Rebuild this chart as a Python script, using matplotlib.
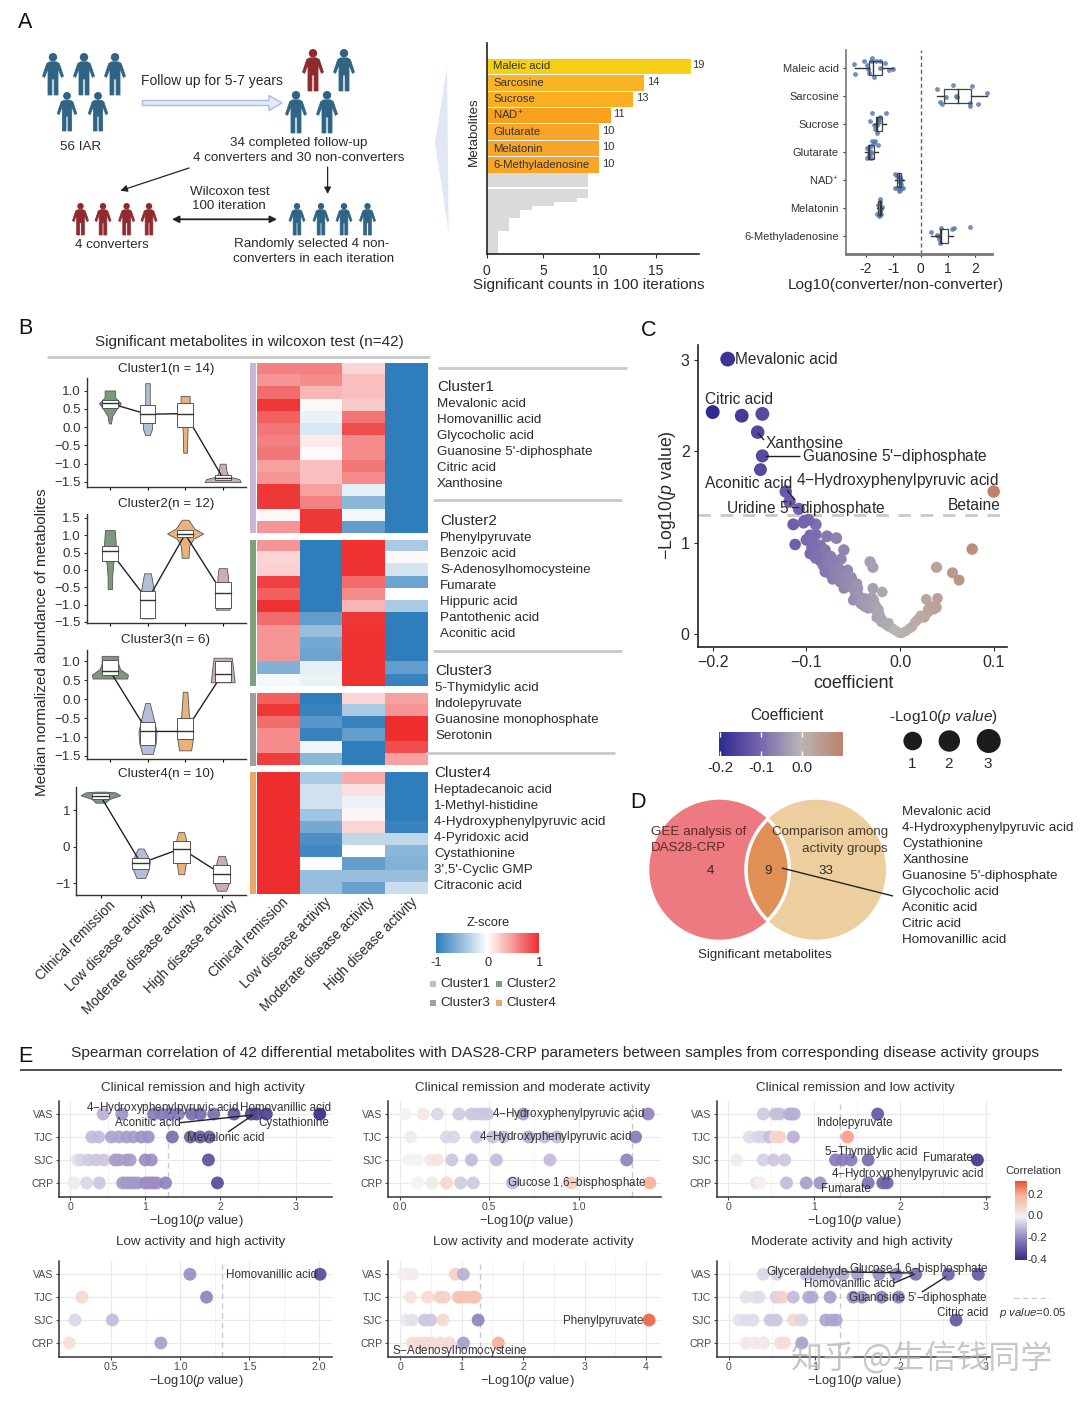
import numpy as np
import matplotlib
matplotlib.use('Agg')
import matplotlib.pyplot as plt
from matplotlib.colors import LinearSegmentedColormap, Normalize
from matplotlib.patches import Circle, Polygon, FancyArrow, Rectangle

plt.rcParams['font.family'] = ['Liberation Sans', 'DejaVu Sans']
plt.rcParams['mathtext.fontset'] = 'custom'
plt.rcParams['mathtext.rm'] = 'Liberation Sans'
plt.rcParams['mathtext.it'] = 'Liberation Sans:italic'
plt.rcParams['mathtext.bf'] = 'Liberation Sans:bold'

# panel A bars
bar_names = ['Maleic acid', 'Sarcosine', 'Sucrose', 'NAD$^{+}$', 'Glutarate', 'Melatonin', '6-Methyladenosine']
bar_values = [18.1, 14, 13, 11, 10, 10, 10]
bar_labels = ['19', '14', '13', '11', '10', '10', '10']
bar_colors = ['#F6D015', '#FBB426', '#FBAE22', '#F9A01E', '#F9A527', '#F9A527', '#F9A527']
grey_counts = [9, 9, 9, 9, 9, 9, 8, 6, 4, 3, 3, 2, 2, 2, 1, 1, 1, 1, 1, 1]

# panel A box plots
box_names = ['Maleic acid', 'Sarcosine', 'Sucrose', 'Glutarate', 'NAD$^{+}$', 'Melatonin', '6-Methyladenosine']
box_x = [
    [-2.45, -2.41, -2.08, -1.77, -1.96, -1.92, -1.90, -1.71, -1.83, -1.65, -1.49, -1.31, -1.16, -1.0, -1.47],
    [.59, 1.19, 1.9, 2.45, .95, 1.32, .73, .8, 1.8, 1.8, 2.1, 1.35],
    [-1.77, -1.28, -1.87, -1.47, -1.71, -1.59, -1.68, -1.61, -1.53, -1.47, -1.57],
    [-1.77, -1.71, -1.83, -1.57, -1.96, -1.87, -1.96, -1.83, -1.77, -1.9, -1.68],
    [-.92, -.85, -.75, -.7, -.8, -.92, -.85, -.7, -.66, -.75, -.8, -.72],
    [-1.5, -1.5, -1.55, -1.4, -1.45, -1.5, -1.58, -1.5, -1.52, -1.44],
    [.4, .77, 1.14, 1.22, 1.8, .61, .67, .73, .65],
]
box_jit = [
    [-.14, .21, -.26, -.37, -.11, .04, .19, .31, -.23, -.25, -.23, -.17, .07, .04, .01],
    [-.26, -.38, -.36, -.1, .04, .01, .21, .27, .24, .36, .3, .04],
    [-.4, -.38, -.12, -.23, .04, .04, .18, .33, -.08, -.26, -.14],
    [-.38, -.32, -.2, -.26, -.14, -.02, .21, .21, .04, .1, -.4],
    [-.2, -.15, -.1, 0, .05, .28, .3, .15, .3, .35, .38, .28],
    [-.32, -.2, -.1, -.03, .05, .1, .2, .25, .28, .2],
    [-.14, -.3, -.24, -.3, -.33, -.04, .12, .24, 0],
]
box_stats = [  # whisker low, q1, median, q3, whisker high
    [-2.4, -1.9, -1.75, -1.4, -1.0],
    [.61, .88, 1.37, 1.86, 2.45],
    [-1.7, -1.63, -1.6, -1.43, -1.26],
    [-2.02, -1.92, -1.9, -1.71, -1.57],
    [-.95, -.85, -.8, -.72, -.62],
    [-1.58, -1.55, -1.5, -1.45, -1.4],
    [.4, .73, .76, 1.0, 1.2],
]

# panel B violins: (levels, half widths, q1, median, q3) for each activity group
cluster1 = [
    ([.1, .3, .5, .65, .8, .82, 1.0], [.03, .06, .18, .29, .15, .14, .14], .52, .65, .75),
    ([-.22, -.05, .1, .4, .7, 1.2], [.06, .12, .12, .08, .06, .06], .1, .35, .6),
    ([-.7, -.2, 0, .4, .65, .85], [.05, .06, .07, .07, .12, .12], 0, .37, .65),
    ([-1.5, -1.42, -1.35, -1.2, -1.0], [.48, .44, .16, .1, .08], -1.45, -1.38, -1.3),
]
cluster2 = [
    ([-.55, -.2, .2, .5, .85, 1.15], [.06, .06, .09, .17, .15, .13], .25, .55, .7),
    ([-1.4, -1.2, -.8, -.4, -.1], [.15, .18, .2, .14, .09], -1.4, -.87, -.6),
    ([.35, .7, .9, 1.05, 1.2, 1.45], [.09, .11, .22, .48, .24, .09], .95, 1.03, 1.15),
    ([-1.15, -1.0, -.6, -.2, .05], [.18, .18, .14, .14, .11], -1.1, -.68, -.35),
]
cluster3 = [
    ([.55, .65, .8, .95, 1.15], [.46, .48, .27, .22, .22], .65, .75, 1.05),
    ([-1.45, -1.15, -.85, -.5, -.1], [.14, .22, .24, .16, .06], -1.2, -.85, -.6),
    ([-1.35, -1.1, -.8, -.4, .2], [.16, .2, .18, .1, .06], -1.05, -.85, -.5),
    ([.45, .6, .8, 1.1], [.32, .3, .28, .24], .45, .68, 1.0),
]
cluster4 = [
    ([1.2, 1.3, 1.4, 1.48, 1.5], [.12, .22, .49, .37, .12], 1.3, 1.38, 1.45),
    ([-.85, -.6, -.4, -.2, -.05], [.11, .2, .22, .14, .07], -.6, -.45, -.3),
    ([-.75, -.4, -.05, .2, .4], [.07, .12, .12, .12, .07], -.45, -.05, .15),
    ([-1.2, -1.0, -.7, -.4, -.25], [.11, .18, .18, .12, .08], -1.0, -.75, -.5),
]
activity = ['Clinical remission', 'Low disease activity', 'Moderate disease activity', 'High disease activity']
violin_colors = ['#7C9A7B', '#B3BED9', '#E8B27A', '#C9AEBA']

# panel B heatmap
heat1 = [[.6, .6, .2, -1], [.5, .55, .3, -1], [.7, .35, .3, -1], [.95, .03, .25, -1], [.75, -.1, .65, -1],
         [.65, -.18, .85, -1], [.6, .1, .55, -1], [.65, .02, .55, -1], [.45, .3, .65, -1], [.5, .3, .55, -1],
         [.95, .45, -.12, -1], [.95, .6, -.55, -1], [.03, .95, -.05, -1], [.5, .95, -.75, -1]]
heat2 = [[.5, -1, .98, -.4], [.2, -1, .98, .03], [.22, -1, .98, -.2], [.9, -1, .7, -.7], [.75, -1, .55, 0],
         [.98, -1, .35, -.4], [.7, -.75, .95, -1], [.5, -.5, .98, -1], [.5, -.65, .98, -1], [.5, -.7, .98, -1],
         [-.6, -.12, .98, -.75], [-.05, -.1, .98, -.95]]
heat3 = [[.75, -1, .2, .45], [.95, -.95, -.4, .5], [.7, -.8, -.95, 1], [.55, -.95, -.75, 1], [.55, -.07, -1, .85],
         [.92, -.55, -1, .45]]
heat4 = [[1, -.4, .4, -1], [1, -.22, .15, -1], [1, -.22, -.1, -1], [1, -.45, .05, -1], [1, -.65, .2, -.95],
         [1, -.85, -.3, -.3], [1, -.9, 0, -.55], [1, 0, -.75, -.6], [1, -.5, -.5, -.5], [1, -.5, -.72, -.25]]
strip_colors = ['#C5B8D3', '#7F9F7F', '#A09EA0', '#E6A96B']

# panel C
coef = [-.184, -.2, -.169, -.147, -.152, -.147, -.149, -.122, -.118, -.108,
        -.114, -.103, -.090, -.098, -.102, -.112, -.1, -.096, -.09, -.093, -.078, -.068,
        -.096, -.094, -.085, -.083, -.088, -.06, -.063, -.075, -.08, -.09, -.085, -.082, -.078, -.074, -.07, -.075,
        -.08, -.072, -.064, -.07, -.066, -.062, -.068, -.056, -.032, -.029, -.029, -.019,
        -.06, -.058, -.055, -.05, -.06, -.045, -.048, -.05, -.043, -.035, -.03, -.028, -.038, -.032, -.028,
        -.025, -.022, -.025, -.02, -.018, -.012, -.012, -.008, -.005, -.002, 0, .002, .006, .01, .013, .016, .018,
        .024, .028, .03, .032, .028, .04, .039, .039, .056, .063, .077, .1,
        -.09, -.087, -.086, -.08, -.078, -.076, -.074, -.072, -.07, -.068, -.066, -.064, -.062, -.06, -.058, -.056,
        -.054, -.052, -.05, -.048, -.046, -.044, -.042, -.04, -.038, -.036, -.034, -.03, -.026, -.023, -.02, -.015,
        .02, .022, .026, .03, .036]
logp = [3.01, 2.43, 2.39, 2.41, 2.21, 1.95, 1.8, 1.56, 1.45, 1.37,
        1.2, 1.22, 1.2, 1.25, 1.24, .98, 1.03, 1.08, 1.09, 1.05, 1.07, 1.05,
        .88, .95, .97, .93, .9, .92, .82, .82, .86, .83, .8, .75, .74, .71, .78, .66,
        .68, .6, .57, .7, .72, .68, .62, .7, .79, .73, .5, .46,
        .63, .58, .63, .57, .5, .5, .4, .37, .36, .36, .4, .37, .3, .3, .28,
        .25, .22, .18, .17, .14, .12, .08, .06, .04, .02, .01, .01, .03, .06, .08, .13, .15,
        .19, .22, .27, .31, .38, .39, .29, .73, .67, .59, .93, 1.56,
        .95, .88, .84, .92, .8, .77, .85, .75, .66, .7, .65, .7, .6, .6, .66, .55,
        .52, .62, .5, .46, .55, .42, .33, .36, .39, .33, .28, .33, .31, .27, .13, .1,
        .17, .2, .18, .24, .27]

# panel D
venn_list = ['Mevalonic acid', '4-Hydroxyphenylpyruvic acid', 'Cystathionine', 'Xanthosine',
             "Guanosine 5'-diphosphate", 'Glycocholic acid', 'Aconitic acid', 'Citric acid', 'Homovanillic acid']

# panel E: one list per row, VAS, TJC, SJC, CRP
e_rows = ['VAS', 'TJC', 'SJC', 'CRP']
e1_x = [[.44, .69, 1.11, 1.22, 1.33, 1.44, 1.62, 1.73, 1.91, 2.18, 2.41, 2.48, 2.61, 3.32],
        [.29, .38, .55, .65, .75, .84, .95, 1.04, 1.36, 1.6, 1.73, 1.85],
        [.1, .15, .25, .35, .45, .6, .65, .75, .8, 1.0, 1.08, 1.84],
        [.05, .22, .39, .7, .75, .8, .85, .9, 1.0, 1.05, 1.1, 1.15, 1.27, 1.96]]
e1_c = [[-.12, -.17, -.22, -.22, -.22, -.22, -.25, -.25, -.25, -.3, -.34, -.34, -.35, -.4],
        [-.1, -.1, -.14, -.14, -.15, -.15, -.17, -.17, -.25, -.28, -.28, -.28],
        [-.03, -.05, -.07, -.08, -.08, -.15, -.15, -.15, -.15, -.18, -.18, -.32],
        [-.01, -.05, -.08, -.16, -.16, -.16, -.16, -.16, -.18, -.18, -.18, -.18, -.2, -.33]]
e2_x = [[.03, .13, .21, .33, .4, .43, .46, .49, .69, 1.39],
        [.06, .26, .3, .43, .52, .58, .72, .81, .88, 1.32],
        [.05, .1, .17, .21, .29, .4, .54, .84, 1.27],
        [.1, .18, .26, .34, .41, .63, .96, 1.4]]
e2_c = [[0, .03, -.05, -.07, -.08, -.08, -.08, -.08, -.15, -.2],
        [-.01, -.05, -.05, -.08, -.09, -.1, -.13, -.1, -.1, -.22],
        [0, 0, .03, .04, -.08, -.1, -.1, -.1, -.2],
        [0, .03, .08, -.07, -.07, -.1, .12, .2]]
e3_x = [[.41, .55, .6, .71, .74, .77, 1.74],
        [.25, .35, .4, .48, .55, .6, .76, 1.39],
        [.1, .41, .53, .66, 1.25, 1.33, 1.43, 1.63, 2.9],
        [.33, .38, .68, .91, 1.07, 1.63, 1.8, 1.85]]
e3_c = [[-.07, -.09, -.09, -.12, -.12, -.12, -.3],
        [-.04, -.05, -.05, -.09, .08, .1, -.12, .22],
        [-.01, -.06, -.08, -.08, -.22, -.22, -.22, -.25, -.38],
        [.05, 0, -.1, -.15, -.17, -.24, -.27, -.27]]
e4_x = [[1.07, 2.01], [.29, 1.19], [.24, .51], [.2, .86]]
e4_c = [[-.18, -.33], [.08, -.2], [-.05, -.1], [.06, -.15]]
e5_x = [[.05, .1, .2, .9, 1.03],
        [.17, .45, .65, .72, .95, 1.0, 1.07, 1.17, 1.22],
        [.1, .2, .4, .5, .7, 1.27, 4.05],
        [.2, .3, .4, .5, .65, .8, 1.03, 1.6]]
e5_c = [[0, .01, .02, .1, -.12],
        [.05, .07, .1, .1, .14, .14, .14, .14, .14],
        [-.02, -.03, -.08, -.08, .08, -.2, .3],
        [.06, .07, .07, .07, .07, .07, -.15, .2]]
e6_x = [[.4, .56, .9, 1.0, 1.1, 1.2, 1.33, 1.5, 1.75, 1.95, 2.18, 2.56, 2.91],
        [.2, .3, .35, .55, .62, .75, .93, .97, 1.18, 1.45, 1.55, 1.78, 1.98],
        [.12, .2, .28, .48, .55, .75, .83, .85, 1.13, 1.2, 1.25, 2.65],
        [.2, .3, .4, .4, .6, .65, .85]]
e6_c = [[-.05, -.06, -.1, -.1, -.1, -.1, -.13, -.15, -.18, -.2, -.25, -.28, -.3],
        [-.03, -.03, -.04, -.06, .1, -.1, -.13, -.13, -.15, -.18, -.18, -.2, -.2],
        [-.03, -.04, -.04, -.08, -.08, .08, .08, -.05, -.14, -.14, -.14, -.3],
        [.03, .03, -.05, .02, .06, .06, -.15]]

W, H = 1080, 1404
fig = plt.figure(figsize=(W / 100, H / 100), dpi=100, facecolor='white')

cmap_z = LinearSegmentedColormap.from_list('z', ['#2F7DBB', '#FFFFFF', '#EE2E2E'])
cmap_c = LinearSegmentedColormap.from_list('c', [(0, '#2E2A8F'), (.3, '#7562AE'), (.63, '#B9B6B4'), (1, '#C07A63')])
norm_c = Normalize(-.2, .115)
cmap_e = LinearSegmentedColormap.from_list('e', [(0, '#3A2C88'), (.274, '#9182BF'), (.548, '#F4F2F4'),
                                                 (.82, '#F8B19A'), (1, '#E8502F')])
norm_e = Normalize(-.4, .33)


def axpx(l, t, r, b, **kw):
    return fig.add_axes([l / W, 1 - b / H, (r - l) / W, (b - t) / H], **kw)


def lim(p0, p1, v0, pv0, v1, pv1):
    # axis limits for axis ends p0, p1 given two known tick positions
    k = (v1 - v0) / (pv1 - pv0)
    return v0 + (p0 - pv0) * k, v0 + (p1 - pv0) * k


def clean(ax, color='#333333', lw=1.2):
    for s in ['top', 'right']:
        ax.spines[s].set_visible(False)
    for s in ['left', 'bottom']:
        ax.spines[s].set_color(color)
        ax.spines[s].set_linewidth(lw)


pix = fig.add_axes([0, 0, 1, 1], zorder=5)
pix.set_xlim(0, W)
pix.set_ylim(H, 0)
pix.axis('off')
pix.patch.set_alpha(0)


def T(x, y, s, size=9.6, ha='left', va='center', color='#2a2a2a', **kw):
    return pix.text(x, y, s, fontsize=size, ha=ha, va=va, color=color, **kw)


def L(x0, y0, x1, y1, color='#222222', lw=1):
    pix.plot([x0, x1], [y0, y1], color=color, lw=lw, solid_capstyle='butt')


def person(x, top, h, color):
    body = np.array([[.08, .21], [.15, .25], [.25, .55], [.2, .58], [.12, .37], [.12, 1.0], [.025, 1.0], [.025, .62]])
    mirror = body[::-1] * [-1, 1]
    pts = np.vstack([body, mirror]) * h + [x, top]
    pix.add_patch(Polygon(pts, closed=True, fc=color, ec=color, lw=.5, joinstyle='round'))
    pix.add_patch(Circle((x, top + .1 * h), .1 * h, fc=color, ec='none'))


for name, x, y in [('A', 18, 22), ('B', 18, 329), ('C', 641, 330), ('D', 630, 802), ('E', 18, 1056)]:
    T(x, y, name, size=15.5, color='#111111')

# panel A scheme
teal, red = '#2F6484', '#8F2A2E'
for x in (53, 84, 115):
    person(x, 53, 42, teal)
for x in (67, 98):
    person(x, 92, 39, teal)
person(313, 49, 42, red)
person(344, 49, 42, teal)
for x in (296, 327):
    person(x, 91, 42, teal)
for x in (80.5, 103, 126.6, 149):
    person(x, 203, 32, red)
for x in (297, 321, 344, 367.5):
    person(x, 203, 32, teal)
pix.add_patch(FancyArrow(142.5, 103, 139.5, 0, width=5, head_width=15, head_length=13, length_includes_head=True,
                         fc='#E3EAF7', ec='#A9BDE0', lw=1))
for a, b, c, d in [(189, 168, 120.4, 190.7), (327.6, 167, 327.6, 194)]:
    pix.annotate('', xy=(c, d), xytext=(a, b), arrowprops=dict(arrowstyle='-|>', color='#222222', lw=.9, shrinkA=0, shrinkB=0))
pix.annotate('', xy=(172, 219.3), xytext=(277, 219.3),
             arrowprops=dict(arrowstyle='<|-|>', color='#222222', lw=1.3, shrinkA=0, shrinkB=0))
pix.add_patch(Polygon([(447, 66.7), (435, 143), (448.7, 233)], closed=True, fc='#E1E7F5', ec='none'))
T(212, 81.5, 'Follow up for 5-7 years', size=10, ha='center')
T(81, 147, '56 IAR', ha='center')
T(298.7, 143, '34 completed follow-up', ha='center')
T(298.7, 158, '4 converters and 30 non-converters', ha='center')
T(230, 192, 'Wilcoxon test', ha='center')
T(228.5, 206, '100 iteration', ha='center')
T(112, 244.5, '4 converters', ha='center')
T(311.8, 244, 'Randomly selected 4 non-', ha='center')
T(314, 259, 'converters in each iteration', ha='center')

# panel A bars
ax = axpx(486.6, 42.7, 698.5, 254)
clean(ax, '#222222')
ax.barh(range(len(bar_values)), bar_values, height=.94, color=bar_colors)
grey_y = 6.5 + (np.arange(len(grey_counts)) + .5) * .25
ax.barh(grey_y, grey_counts, height=.25, color='#D9DADA')
ax.axhline(7.42, color='white', lw=1.5)
ax.set_xlim(0, 18.79)
ax.set_ylim(11.43, -1.45)
ax.set_yticks([])
ax.set_xticks([0, 5, 10, 15])
ax.tick_params(axis='x', labelsize=10, length=3, pad=4, colors='#2a2a2a')
for i, (n, v, lab) in enumerate(zip(bar_names, bar_values, bar_labels)):
    ax.text(.6, i, n, fontsize=8.2, va='center', color='#333333')
    ax.text(v + (.1 if i == 0 else .25), i - .08, lab, fontsize=8, va='center', color='#333333')
T(589, 285.5, 'Significant counts in 100 iterations', size=11, ha='center')
T(474, 132, 'Metabolites', size=9.6, ha='center', rotation=90)

# panel A boxes
ax = axpx(846, 50, 992.4, 254)
clean(ax, '#777777')
ax.spines['bottom'].set_linewidth(2)
ax.axvline(0, color='#9B4A5A', lw=1, ls=(0, (3, 2)))
for i in range(len(box_names)):
    s = box_stats[i]
    ax.scatter(box_x[i], i + np.array(box_jit[i]), s=12, color='#4F74AE', alpha=.8, lw=0, zorder=2)
    ax.plot([s[0], s[1]], [i, i], color='#333333', lw=1, zorder=3)
    ax.plot([s[3], s[4]], [i, i], color='#333333', lw=1, zorder=3)
    ax.add_patch(Rectangle((s[1], i - .25), s[3] - s[1], .5, fc='none', ec='#444444', lw=.9, zorder=3))
    ax.plot([s[2], s[2]], [i - .25, i + .25], color='#333333', lw=1, zorder=3)
ax.set_xlim(lim(846, 992.4, -2, 866, 2, 975))
ax.set_ylim(6.64, -.64)
ax.set_yticks(range(7))
ax.set_yticklabels(box_names)
ax.set_xticks([-2, -1, 0, 1, 2])
ax.set_xticklabels(['-2', '-1', '0', '1', '2'])
ax.tick_params(axis='y', labelsize=8, length=2, pad=3, colors='#333333')
ax.tick_params(axis='x', labelsize=10, length=2, pad=4, colors='#2a2a2a')
T(896, 285.5, 'Log10(converter/non-converter)', size=11.1, ha='center')

# panel B
T(249, 342, 'Significant metabolites in wilcoxon test (n=42)', size=11, ha='center')
L(47, 357, 430, 357, '#C9C9C9', 2)
T(42, 642, 'Median normalized abundance of metabolites', size=11, ha='center', rotation=90)

violin_panels = [
    (cluster1, 'Cluster1(n = 14)', 369, (87.3, 378, 245.7, 486.5), (1.0, 390.5, -1.5, 482), [1, .5, 0, -.5, -1, -1.5],
     (109.9, 222.7)),
    (cluster2, 'Cluster2(n = 12)', 504, (87.3, 514, 245.7, 622.7), (1.5, 518, -1.5, 621.8),
     [1.5, 1, .5, 0, -.5, -1, -1.5], (109.9, 222.7)),
    (cluster3, 'Cluster3(n = 6)', 640, (87.3, 650.4, 245.7, 758.8), (1.0, 661.5, -1.5, 756), [1, .5, 0, -.5, -1, -1.5],
     (109.9, 222.7)),
    (cluster4, 'Cluster4(n = 10)', 774.5, (76.4, 786.5, 245.7, 895), (1, 810, -1, 883.4), [1, 0, -1],
     (100.5, 221.6)),
]
for shapes, title, ty, box, yref, yticks, xref in violin_panels:
    ax = axpx(*box)
    clean(ax, '#333333', 1)
    for i, (ys, ws, q1, med, q3) in enumerate(shapes):
        ys, ws = np.array(ys), np.array(ws)
        ax.fill_betweenx(ys, i - ws, i + ws, color=violin_colors[i], ec='#555555', lw=.6, zorder=2)
        ax.add_patch(Rectangle((i - .21, q1), .42, q3 - q1, fc='white', ec='#555555', lw=.7, zorder=5))
        ax.plot([i - .21, i + .21], [med, med], color='#333333', lw=1, zorder=6)
    ax.plot(range(4), [s[3] for s in shapes], color='#222222', lw=1, zorder=4)
    ax.set_xlim(lim(box[0], box[2], 0, xref[0], 3, xref[1]))
    ax.set_ylim(lim(box[3], box[1], yref[0], yref[1], yref[2], yref[3]))
    ax.set_xticks(range(4))
    ax.set_xticklabels([])
    ax.set_yticks(yticks)
    ax.tick_params(axis='y', labelsize=9.6, length=2.5, pad=2, colors='#333333')
    ax.tick_params(axis='x', length=2)
    T(166, ty, title, size=9.6, ha='center')

for name, x in zip(activity, [108, 149, 189, 230]):
    T(x, 898, name, size=9.8, ha='right', va='top', rotation=45, rotation_mode='anchor')
for name, x in zip(activity, [281, 324, 367, 410]):
    T(x, 895, name, size=9.8, ha='right', va='top', rotation=45, rotation_mode='anchor')

heat_blocks = [(heat1, 362.9, 533.4), (heat2, 539.6, 686), (heat3, 693, 765.5), (heat4, 771.8, 893.7)]
for k, (values, top, bottom) in enumerate(heat_blocks):
    ax = axpx(256.6, top, 427.4, bottom)
    ax.imshow(values, cmap=cmap_z, vmin=-1, vmax=1, aspect='auto', interpolation='nearest')
    ax.axis('off')
    pix.add_patch(Rectangle((249.6, top), 6.2, bottom - top, fc=strip_colors[k], ec='none'))

cluster_text = [
    ('Cluster1', 437, 387, ['Mevalonic acid', 'Homovanillic acid', 'Glycocholic acid', "Guanosine 5'-diphosphate",
                            'Citric acid', 'Xanthosine']),
    ('Cluster2', 440, 521, ['Phenylpyruvate', 'Benzoic acid', 'S-Adenosylhomocysteine', 'Fumarate', 'Hippuric acid',
                            'Pantothenic acid', 'Aconitic acid']),
    ('Cluster3', 435, 671, ['5-Thymidylic acid', 'Indolepyruvate', 'Guanosine monophosphate', 'Serotonin']),
    ('Cluster4', 434, 773, ['Heptadecanoic acid', '1-Methyl-histidine', '4-Hydroxyphenylpyruvic acid', '4-Pyridoxic acid',
                            'Cystathionine', "3',5'-Cyclic GMP", 'Citraconic acid']),
]
for head, x, y, names in cluster_text:
    T(x, y, head, size=11)
    for j, n in enumerate(names):
        T(x, y + 17 + 16 * j, n, size=9.6)
for y, x1 in [(368, 627), (500, 622), (651, 622), (753, 615)]:
    L(x1 - 189, y, x1, y, '#C9C9C9', 2)

T(488, 923, 'Z-score', size=9.2, ha='center')
ax = axpx(436.3, 933, 538.7, 952.6)
ax.imshow(np.linspace(-1, 1, 256)[None, :], cmap=cmap_z, aspect='auto')
ax.axis('off')
for x, s in [(436, '-1'), (488, '0'), (540, '1')]:
    T(x, 963, s, size=9.2, ha='center')
for x, y, k in [(433, 984, 0), (499, 984, 1), (433, 1003, 2), (499, 1003, 3)]:
    pix.add_patch(Rectangle((x - 3, y - 3), 6, 6, fc=strip_colors[k], ec='none'))
    T(x + 7, y, 'Cluster%d' % (k + 1), size=9.6)

# panel C
ax = axpx(698, 345, 1006.7, 647)
clean(ax, '#222222', 1.2)
ax.axhline(1.3, color='#C9C9C9', lw=2, ls=(0, (4.5, 3.5)), zorder=1)
coef_arr, logp_arr = np.array(coef), np.array(logp)
sizes = ((10 + 1.6 * logp_arr) * .72) ** 2
ax.scatter(coef_arr, logp_arr, s=sizes, c=coef_arr, cmap=cmap_c, norm=norm_c, lw=0, zorder=2)
ax.set_xlim(lim(698, 1006.7, -.2, 712.7, .1, 993.7))
ax.set_ylim(lim(647, 345, 0, 634, 3, 360))
ax.set_xticks([-.2, -.1, 0, .1])
ax.set_yticks([0, 1, 2, 3])
ax.tick_params(labelsize=11.5, length=3, pad=3, colors='#2a2a2a')
T(853, 683, 'coefficient', size=12.9, ha='center')
T(668, 495, r'$-$Log10($\mathit{p}$ value)', size=12.8, ha='center', rotation=90)
for x, y, s, ha in [(735, 359, 'Mevalonic acid', 'left'), (705, 399, 'Citric acid', 'left'),
                    (766, 444, 'Xanthosine', 'left'), (802, 457, "Guanosine 5'$-$diphosphate", 'left'),
                    (705, 484, 'Aconitic acid', 'left'), (796, 481, '4$-$Hydroxyphenylpyruvic acid', 'left'),
                    (725.7, 508, "Uridine 5'$-$diphosphate", 'left'), (1001, 506, 'Betaine', 'right')]:
    T(x, y, s, size=11.2, ha=ha)
L(758, 433, 764, 440)
L(765, 456, 800, 456)
L(787, 490, 795, 500)

T(787, 715, 'Coefficient', size=11.2, ha='center')
ax = axpx(719, 732, 843, 756)
ax.imshow(np.linspace(-.2, .1, 256)[None, :], cmap=cmap_c, norm=norm_c, aspect='auto')
ax.axis('off')
for x, s in [(720, '-0.2'), (761, '-0.1'), (802, '0.0')]:
    T(x, 768, s, size=11, ha='center')
    L(x, 732, x, 737, 'white', 1)
    L(x, 751, x, 756, 'white', 1)
T(943, 717, r'-Log10($\mathit{p\ value}$)', size=11.1, ha='center')
for x, r, s in [(912.7, 9.3, '1'), (949.3, 10.7, '2'), (988.7, 12, '3')]:
    pix.add_patch(Circle((x, 741), r, fc='#1c1c1c', ec='none'))
    T(x - 1, 764, s, size=11, ha='center')

# panel D
left = Circle((719.3, 869.7), 70, fc='#EC7A80', ec='none')
right = Circle((816, 869.7), 70, fc='#EDCF9F', ec='none')
pix.add_patch(left)
pix.add_patch(right)
lens = pix.add_patch(Circle((719.3, 869.7), 70, fc='#E08F55', ec='none'))
lens.set_clip_path(Circle((816, 869.7), 70, transform=pix.transData))
edge1 = pix.add_patch(Circle((719.3, 869.7), 70, fc='none', ec='white', lw=2.5))
edge1.set_clip_path(Circle((816, 869.7), 71, transform=pix.transData))
edge2 = pix.add_patch(Circle((816, 869.7), 70, fc='none', ec='white', lw=2.5))
edge2.set_clip_path(Circle((719.3, 869.7), 71, transform=pix.transData))
T(651, 832, 'GEE analysis of', color='#5b2a2a')
T(651, 848, 'DAS28-CRP', color='#5b2a2a')
T(888, 832, 'Comparison among', ha='right', color='#4a3a2a')
T(888, 849, 'activity groups', ha='right', color='#4a3a2a')
T(710, 871, '4', ha='center')
T(768, 871, '9', ha='center')
T(826, 871, '33', ha='center')
L(781.7, 868, 893, 896)
T(765, 955, 'Significant metabolites', ha='center')
for j, n in enumerate(venn_list):
    T(902.3, 812 + 16 * j, n)

# panel E
T(555, 1053, 'Spearman correlation of 42 differential metabolites with DAS28-CRP parameters between samples from corresponding disease activity groups',
  size=11.1, ha='center')
L(20, 1070, 1062, 1070, '#333333', 1.2)

e_panels = [
    ('Clinical remission and high activity', e1_x, e1_c, (58.7, 1100.7, 331.7, 1196.7), (0, 70, 3, 295.7), [0, 1, 2, 3],
     ['0', '1', '2', '3'], 203, 196, 1088),
    ('Clinical remission and moderate activity', e2_x, e2_c, (387.7, 1100.7, 661, 1196.7), (0, 400, 1, 578.5),
     [0, .5, 1], ['0.0', '0.5', '1.0'], 533, 526, 1088),
    ('Clinical remission and low activity', e3_x, e3_c, (717, 1100.7, 990, 1196.7), (0, 728, 3, 986), [0, 1, 2, 3],
     ['0', '1', '2', '3'], 855, 854, 1088),
    ('Low activity and high activity', e4_x, e4_c, (58.7, 1261, 331.7, 1356.7), (.5, 111, 2, 318.7), [.5, 1, 1.5, 2],
     ['0.5', '1.0', '1.5', '2.0'], 201, 196, 1242),
    ('Low activity and moderate activity', e5_x, e5_c, (387.7, 1261, 661, 1356.7), (0, 400, 4, 646), [0, 1, 2, 3, 4],
     ['0', '1', '2', '3', '4'], 533, 527, 1242),
    ('Moderate activity and high activity', e6_x, e6_c, (717, 1261, 990, 1356.7), (0, 729, 3, 986), [0, 1, 2, 3],
     ['0', '1', '2', '3'], 852, 854, 1242),
]
for title, xs, cs, box, xref, xticks, xlabels, title_x, label_x, title_y in e_panels:
    ax = axpx(*box)
    clean(ax, '#333333', 1.1)
    ax.set_xlim(lim(box[0], box[2], xref[0], xref[1], xref[2], xref[3]))
    ax.set_ylim(3.6, -.58)
    ax.set_xticks(xticks)
    ax.set_xticklabels(xlabels)
    ax.set_xticks((np.array(xticks[:-1]) + np.array(xticks[1:])) / 2, minor=True)
    ax.set_yticks(range(4))
    ax.set_yticklabels(e_rows)
    ax.grid(True, which='major', color='#E9E9E9', lw=.9, zorder=0)
    ax.grid(True, which='minor', axis='x', color='#F2F2F2', lw=.7, zorder=0)
    ax.set_axisbelow(True)
    ax.axvline(1.3, color='#C8C8D0', lw=1, ls=(0, (4, 3)), zorder=1)
    for i in range(4):
        ax.scatter(xs[i], [i] * len(xs[i]), s=86, c=cs[i], cmap=cmap_e, norm=norm_e, lw=0, alpha=.92, zorder=2)
    ax.tick_params(axis='both', which='major', labelsize=7.6, length=2, pad=2, colors='#4a4a4a')
    ax.tick_params(axis='x', which='minor', length=0)
    T(title_x, title_y, title, size=9.6, ha='center', color='#333333')
    T(label_x, box[3] + 24.5, r'$-$Log10($\mathit{p}$ value)', size=9.3, ha='center', color='#333333')

e_text = [
    (86, 1108, '4$-$Hydroxyphenylpyruvic acid', 'left'), (240, 1108, 'Homovanillic acid', 'left'),
    (115, 1123, 'Aconitic acid', 'left'), (329, 1123, 'Cystathionine', 'right'), (187, 1138, 'Mevalonic acid', 'left'),
    (491.7, 1114, '4$-$Hydroxyphenylpyruvic acid', 'left'), (479, 1137, '4$-$Hydroxyphenylpyruvic acid', 'left'),
    (507, 1183, 'Glucose 1,6$-$bisphosphate', 'left'),
    (855, 1123, 'Indolepyruvate', 'center'), (871, 1152, '5$-$Thymidylic acid', 'center'), (973, 1158, 'Fumarate', 'right'),
    (984, 1174, '4$-$Hydroxyphenylpyruvic acid', 'right'), (845.6, 1189, 'Fumarate', 'center'),
    (225.7, 1275, 'Homovanillic acid', 'left'), (391.7, 1350.7, 'S$-$Adenosylhomocysteine', 'left'),
    (643, 1321, 'Phenylpyruvate', 'right'), (807, 1272, 'Glyceraldehyde', 'center'),
    (988, 1268.7, 'Glucose 1,6$-$bisphosphate', 'right'), (850, 1283.7, 'Homovanillic acid', 'center'),
    (988, 1298, "Guanosine 5'$-$diphosphate", 'right'), (988, 1312.7, 'Citric acid', 'right'),
]
for x, y, s, ha in e_text:
    T(x, y, s, size=8.4, ha=ha, color='#333333')
L(180, 1122.7, 253, 1115)
L(228, 1132, 253, 1115)
L(846, 1272, 913, 1273)
L(894, 1283, 915, 1274)
L(922, 1292, 946, 1276.7)

T(1033, 1171, 'Correlation', size=8.2, ha='center', color='#333333')
ax = axpx(1015, 1181, 1027, 1260)
ax.imshow(np.linspace(.33, -.4, 256)[:, None], cmap=cmap_e, norm=norm_e, aspect='auto')
ax.axis('off')
for y, s in [(1195, '0.2'), (1216, '0.0'), (1238, '-0.2'), (1260, '-0.4')]:
    T(1028, y, s, size=8.2, color='#333333')
pix.plot([1014, 1050], [1298, 1298], color='#C8C8C8', lw=.9, ls=(0, (4, 3)))
T(1033, 1313, r'$\mathit{p\ value}$=0.05', size=8.2, ha='center', color='#333333')

T(1052, 1358, '知乎 @生信钱同学', size=23, ha='right', color='#B5B5B5', alpha=.75,
  family=['Noto Sans CJK SC', 'DejaVu Sans'])

fig.savefig('out.png', dpi=100)
